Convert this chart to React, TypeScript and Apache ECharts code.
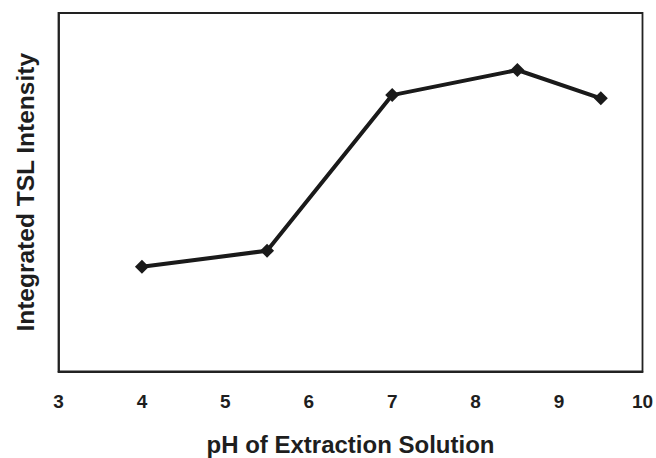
import React, { useEffect, useRef } from "react";
import * as echarts from "echarts";

const phValues = [4, 5.5, 7, 8.5, 9.5];
const intensity = [29.2, 33.7, 77.1, 84.1, 76.2];
const xTicks = [3, 4, 5, 6, 7, 8, 9, 10];

const FONT = "'Liberation Sans', Arial, sans-serif";

export default function App() {
  const ref = useRef<HTMLDivElement>(null);
  useEffect(() => {
    if (!ref.current) return;
    const chart = echarts.init(ref.current, null, { renderer: "svg" });
    chart.setOption({
      animation: false,
      backgroundColor: "#ffffff",
      grid: {
        left: 58.5,
        right: 13.5,
        top: 13,
        bottom: 86.5,
        containLabel: false,
        outerBoundsMode: "none",
        show: true,
        borderColor: "#222",
        borderWidth: 1.8,
        backgroundColor: "transparent",
      },
      xAxis: {
        type: "value",
        min: xTicks[0],
        max: xTicks[xTicks.length - 1],
        interval: 1,
        name: "pH of Extraction Solution",
        nameLocation: "middle",
        nameGap: 61,
        nameTextStyle: {
          fontFamily: FONT,
          fontWeight: "bold",
          fontSize: 24,
          lineHeight: 24,
          color: "#1e1e1e",
        },
        axisLine: { show: true, lineStyle: { color: "#222", width: 1.8 } },
        axisTick: { show: false },
        splitLine: { show: false },
        axisLabel: {
          fontFamily: FONT,
          fontWeight: "bold",
          fontSize: 19,
          color: "#1e1e1e",
          margin: 20,
        },
      },
      yAxis: {
        type: "value",
        min: 0,
        max: 100,
        name: "Integrated TSL Intensity",
        nameLocation: "middle",
        nameGap: 21,
        nameTextStyle: { fontFamily: FONT, fontWeight: "bold", fontSize: 24.5, color: "#1e1e1e" },
        axisLine: { show: true, lineStyle: { color: "#222", width: 1.8 } },
        axisTick: { show: false },
        axisLabel: { show: false },
        splitLine: { show: false },
      },
      series: [
        {
          type: "line",
          data: phValues.map((x, i) => [x, intensity[i]]),
          symbol: "diamond",
          symbolSize: 14,
          lineStyle: { color: "#1a1a1a", width: 4 },
          itemStyle: { color: "#1a1a1a" },
        },
      ],
    });
    return () => chart.dispose();
  }, []);
  return (
    <div
      ref={ref}
      style={{ position: "fixed", left: 0, top: 0, width: 656, height: 458, background: "#fff" }}
    />
  );
}
